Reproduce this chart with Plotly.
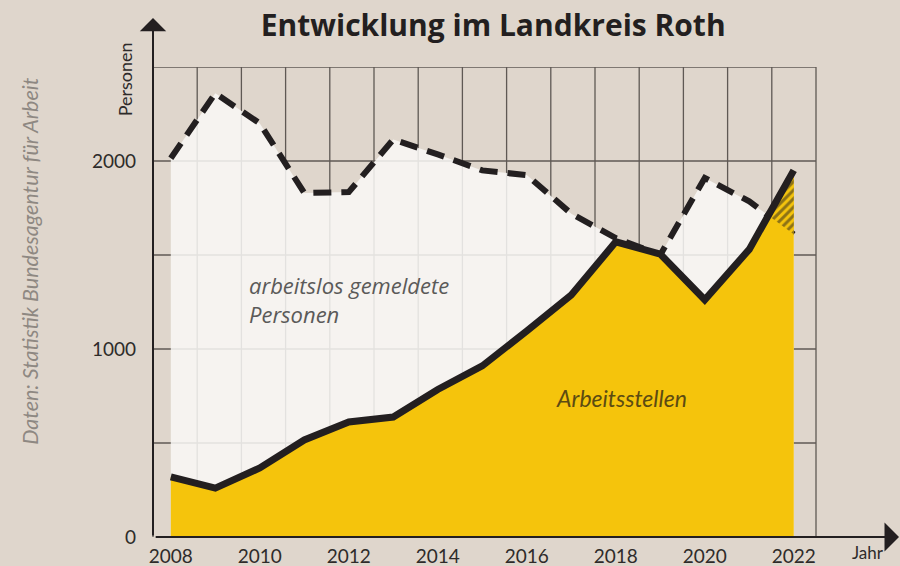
import plotly.graph_objects as go

# ---------------- data ----------------
years = list(range(2008, 2023))
arbeitslos = [2015, 2360, 2200, 1830, 1835, 2115, 2035, 1950, 1925, 1720, 1590, 1500, 1910, 1785, 1610]
arbeitsstellen = [320, 260, 367, 516, 612, 638, 785, 910, 1096, 1287, 1570, 1505, 1262, 1530, 1950]
x_tick_years = [2008, 2010, 2012, 2014, 2016, 2018, 2020, 2022]
y_tick_vals = [0, 1000, 2000]
y_grid_vals = [500, 1000, 1500, 2000, 2500]

title_text = "Entwicklung im Landkreis Roth"
label_unemployed = "arbeitslos gemeldete<br>Personen"
label_jobs = "Arbeitsstellen"
source_text = "Daten: Statistik Bundesagentur für Arbeit"

BG = "#dfd6cc"
YELLOW = "#f5c40c"
INK = "#231f20"
GRID = "#5f5954"
TXT = "#2e2b2a"

X0, X1 = 2007.6, 2022.5
Y0, Y1 = 0, 2500


def over_regions(x, top, bot):
    """Polygons where top > bot (crossings interpolated from data)."""
    polys = []
    t_pts, b_pts = [], []
    for i in range(len(x)):
        d = top[i] - bot[i]
        if i > 0:
            dp = top[i - 1] - bot[i - 1]
            if (dp > 0) != (d > 0):
                t = dp / (dp - d)
                xc = x[i - 1] + t * (x[i] - x[i - 1])
                yc = bot[i - 1] + t * (bot[i] - bot[i - 1])
                t_pts.append((xc, yc))
                b_pts.append((xc, yc))
                if dp > 0:
                    polys.append(t_pts + b_pts[::-1])
                    t_pts, b_pts = [], []
        if d > 0:
            t_pts.append((x[i], top[i]))
            b_pts.append((x[i], bot[i]))
    if t_pts:
        polys.append(t_pts + b_pts[::-1])
    return polys


fig = go.Figure()

# white area under unemployed line (semi transparent so grid shows faintly)
fig.add_trace(go.Scatter(
    x=years, y=arbeitslos, mode="lines", fill="tozeroy",
    fillcolor="rgba(249,248,246,0.86)", line=dict(width=0),
    hoverinfo="skip", showlegend=False))

# dashed line (drawn below the yellow area)
fig.add_trace(go.Scatter(
    x=years, y=arbeitslos, mode="lines",
    line=dict(color=INK, width=6, dash="18px,10px"),
    hoverinfo="skip", showlegend=False))

# yellow area
fig.add_trace(go.Scatter(
    x=years, y=arbeitsstellen, mode="lines", fill="tozeroy",
    fillcolor=YELLOW, line=dict(width=0),
    hoverinfo="skip", showlegend=False))

# hatched overlap where jobs exceed unemployed
for poly in over_regions(years, arbeitsstellen, arbeitslos):
    px = [p[0] for p in poly] + [poly[0][0]]
    py = [p[1] for p in poly] + [poly[0][1]]
    fig.add_trace(go.Scatter(
        x=px, y=py, mode="lines", fill="toself",
        fillcolor=YELLOW, line=dict(width=0),
        fillpattern=dict(shape="/", fgcolor=INK, bgcolor=YELLOW, size=6, solidity=0.5),
        hoverinfo="skip", showlegend=False))

# solid line
fig.add_trace(go.Scatter(
    x=years, y=arbeitsstellen, mode="lines",
    line=dict(color=INK, width=7),
    hoverinfo="skip", showlegend=False))

shapes = []
# vertical grid (15 equal cells)
for i in range(16):
    shapes.append(dict(type="line", xref="paper", yref="paper",
                       x0=i / 15, x1=i / 15, y0=0, y1=1,
                       line=dict(color=GRID, width=1.3), layer="below"))
# horizontal grid
for v in y_grid_vals:
    shapes.append(dict(type="line", xref="paper", yref="y",
                       x0=0, x1=1, y0=v, y1=v,
                       line=dict(color=GRID, width=1.3), layer="below"))

annotations = []
# axis arrows
annotations.append(dict(xref="paper", yref="paper", x=0, y=1.104, ax=0, ay=519,
                        axref="pixel", ayref="pixel", text="", showarrow=True,
                        arrowhead=1, arrowsize=2.2, arrowwidth=2, arrowcolor=INK))
annotations.append(dict(xref="paper", yref="paper", x=1.133, y=0, ax=-750, ay=0,
                        text="", showarrow=True,
                        arrowhead=1, arrowsize=2.2, arrowwidth=2.2, arrowcolor=INK))

annotations.append(dict(xref="x", yref="y", x=2009.71, y=1262, text=label_unemployed,
                        showarrow=False, xanchor="left", yanchor="middle", align="left",
                        font=dict(family="Open Sans", size=22, color="#5b5a59", style="italic")))
annotations.append(dict(xref="x", yref="y", x=2018.14, y=739, text=label_jobs,
                        showarrow=False, xanchor="center", yanchor="middle",
                        font=dict(family="Lato", size=23, color="#5c4b12", style="italic")))
annotations.append(dict(xref="paper", yref="paper", x=-0.186, y=0.587, text=source_text,
                        showarrow=False, textangle=-90, xanchor="center", yanchor="middle",
                        font=dict(family="Lato", size=21.5, color="#8e8882", style="italic")))
annotations.append(dict(xref="paper", yref="paper", x=-0.042, y=0.974, text="Personen",
                        showarrow=False, textangle=-90, xanchor="center", yanchor="middle",
                        font=dict(family="Lato", size=18, color=TXT)))
annotations.append(dict(xref="paper", yref="paper", x=1.078, y=-0.0605, text="Jahr",
                        showarrow=False, xanchor="center", yanchor="bottom",
                        font=dict(family="Lato", size=17, color=TXT)))

fig.update_layout(
    width=900, height=566,
    paper_bgcolor=BG, plot_bgcolor=BG,
    margin=dict(l=153, r=84, t=67, b=29, autoexpand=False),
    title=dict(text="<b>" + title_text + "</b>", x=0.548, xanchor="center", y=0.955,
               yanchor="middle", font=dict(family="Open Sans", size=30, color=INK)),
    xaxis=dict(range=[X0, X1], showgrid=False, zeroline=False, showline=False,
               tickmode="array", tickvals=x_tick_years,
               ticktext=[str(y) for y in x_tick_years],
               tickfont=dict(family="Lato", size=19, color=TXT),
               ticks="", ticklabelstandoff=6, fixedrange=True, automargin=False),
    yaxis=dict(range=[Y0, Y1], showgrid=False, zeroline=False, showline=False,
               tickmode="array", tickvals=y_tick_vals,
               ticktext=[str(v) for v in y_tick_vals],
               tickfont=dict(family="Lato", size=19, color=TXT),
               ticks="", ticklabelstandoff=16, fixedrange=True, automargin=False),
    shapes=shapes,
    annotations=annotations,
    showlegend=False,
)

fig.write_html("out.html", config={"displayModeBar": False},
               post_script="document.body.style.margin='0';")
